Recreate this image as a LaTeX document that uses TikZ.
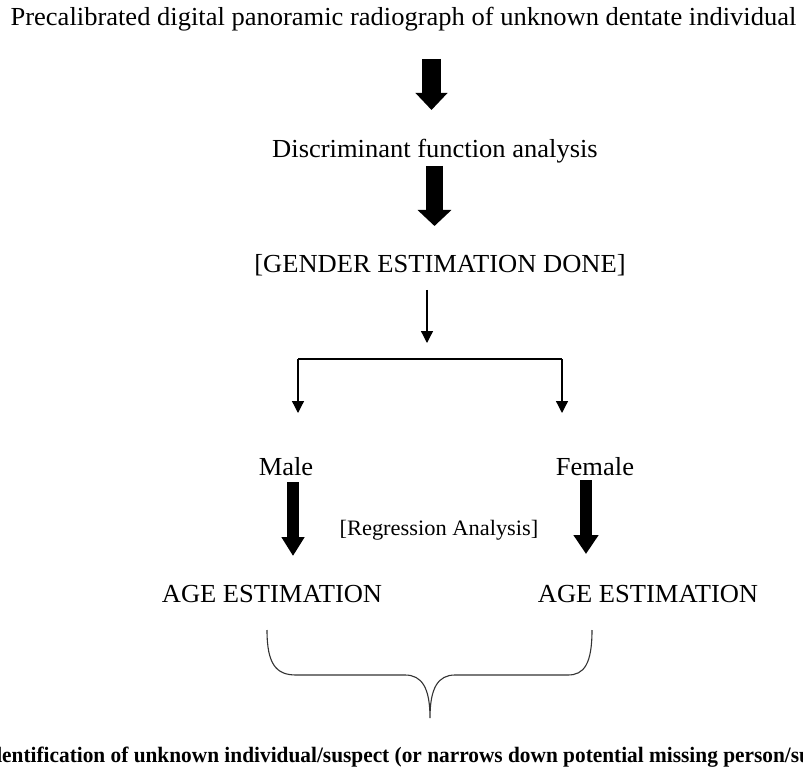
\documentclass[tikz,border=0pt]{standalone}
\usepackage{fontspec}
\setmainfont[FakeStretch=1.02]{Liberation Serif}
\newfontfamily\identfont[FakeStretch=0.97]{Liberation Serif}
\usetikzlibrary{arrows.meta}
\begin{document}
\begin{tikzpicture}[x=1pt,y=-1pt,
  lbl/.style={anchor=base, inner sep=0pt, font=\fontsize{26}{30}\selectfont},
  smalllbl/.style={anchor=base, inner sep=0pt, font=\fontsize{22}{26}\selectfont},
  bigarrow/.style n args={3}{draw=black, line width=#1, -{Triangle[width=#2,length=#3]}},
  thinarrow/.style={draw=black, line width=1.3pt, -{Triangle[width=12pt,length=12pt]}},
  thinline/.style={draw=black, line width=1.3pt},
  bracestyle/.style={draw=black!80, line width=1.1pt}]
\useasboundingbox (0,0) rectangle (803,767);
\fill[white] (0,0) rectangle (803,767);

% texts
\node[lbl] (title) at (403.5,26) {Precalibrated digital panoramic radiograph of unknown dentate individual};
\node[lbl] (disc) at (435,158) {Discriminant function analysis};
\node[lbl] (gender) at (440,273) {[GENDER ESTIMATION DONE]};
\node[lbl] (male) at (286,475) {Male};
\node[lbl] (female) at (595,475) {Female};
\node[smalllbl] (regr) at (439,535) {[Regression Analysis]};
\node[lbl] (ageL) at (272,602) {AGE ESTIMATION};
\node[lbl] (ageR) at (648,602) {AGE ESTIMATION};
\node[anchor=base west, inner sep=0pt, font=\identfont\bfseries\fontsize{22}{26}\selectfont] (ident) at (2,762)
  {\llap{Id}entification of unknown individual/suspect (or narrows down potential missing person/suspect)};

% big arrows
\coordinate (a1s) at (431.5,59);  \coordinate (a1e) at (431.5,110);
\coordinate (a2s) at (434.5,166); \coordinate (a2e) at (434.5,226);
\coordinate (a3s) at (293,482);   \coordinate (a3e) at (293,556);
\coordinate (a4s) at (586,480);   \coordinate (a4e) at (586,554);
\draw[bigarrow={19pt}{31pt}{17pt}] (a1s) -- (a1e);
\draw[bigarrow={17pt}{33pt}{16pt}] (a2s) -- (a2e);
\draw[bigarrow={12pt}{22pt}{19pt}] (a3s) -- (a3e);
\draw[bigarrow={12pt}{24pt}{19pt}] (a4s) -- (a4e);

% thin arrows / tee
\coordinate (t1s) at (427,290); \coordinate (t1e) at (427,343);
\coordinate (hl) at (298,359); \coordinate (hr) at (562,359);
\coordinate (dl) at (298,413); \coordinate (dr) at (562,413);
\draw[thinarrow] (t1s) -- (t1e);
\draw[thinline] (hl) -- (hr);
\draw[thinarrow] (hl) -- (dl);
\draw[thinarrow] (hr) -- (dr);

% brace
\draw[bracestyle] (267,630) .. controls (267,664) and (276,675) .. (296,675)
  -- (405,675) .. controls (422,675) and (430,688) .. (430,718)
  .. controls (430,688) and (438,675) .. (455,675)
  -- (568,675) .. controls (584,675) and (592,664) .. (592,630);
\end{tikzpicture}
\end{document}
